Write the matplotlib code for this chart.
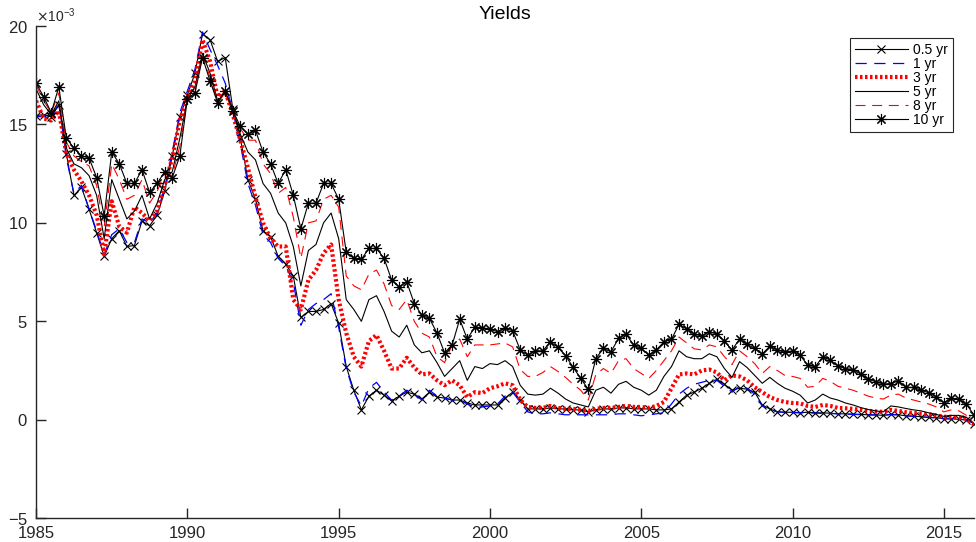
import numpy as np
import matplotlib
matplotlib.use("Agg")
import matplotlib.pyplot as plt

plt.rcParams["font.family"] = ["Liberation Sans", "DejaVu Sans"]
plt.rcParams["axes.unicode_minus"] = False

# quarterly observations, 1985Q1 .. 2016Q1 (values in units of 1e-3)
start_year = 1985
n_obs = 125

y05 = [15.45, 15.5, 15.4, 16.0, 13.5, 11.4, 11.8, 10.7, 9.5, 8.3, 9.2, 9.6,
       8.8, 8.85, 10.1, 9.85, 10.4, 11.6, 13.4, 15.4, 16.5, 17.6, 19.6, 19.3,
       18.2, 18.4, 15.8, 14.3, 12.2, 11.2, 9.6, 9.3, 8.3, 7.9, 7.3, 5.2,
       5.5, 5.5, 5.6, 5.9, 4.9, 2.7, 1.5, 0.5, 1.2, 1.5, 1.25, 0.95,
       1.2, 1.4, 1.3, 1.05, 1.4, 1.15, 1.1, 1.0, 1.0, 0.85, 0.75, 0.75,
       0.75, 0.75, 1.1, 1.4, 1.0, 0.55, 0.55, 0.55, 0.6, 0.55, 0.55, 0.5,
       0.5, 0.4, 0.5, 0.55, 0.55, 0.6, 0.6, 0.55, 0.55, 0.55, 0.5, 0.5,
       0.55, 0.9, 1.25, 1.4, 1.6, 1.85, 2.05, 1.8, 1.5, 1.6, 1.55, 1.4,
       0.75, 0.55, 0.4, 0.38, 0.38, 0.36, 0.38, 0.35, 0.35, 0.33, 0.3, 0.3,
       0.28, 0.27, 0.25, 0.25, 0.22, 0.28, 0.25, 0.2, 0.18, 0.15, 0.12, 0.1,
       0.05, 0.05, 0.02, 0.0, -0.2]

y1 = [15.4, 15.4, 15.3, 16.1, 13.3, 11.5, 11.9, 10.7, 9.6, 8.4, 9.4, 9.7,
      9.0, 9.0, 10.2, 10.0, 10.5, 11.8, 13.6, 15.6, 16.7, 17.8, 19.7, 18.8,
      18.0, 17.1, 15.7, 14.0, 12.0, 10.9, 9.4, 9.0, 8.2, 7.8, 7.0, 4.8,
      5.6, 5.9, 6.1, 6.4, 4.7, 2.6, 1.4, 0.7, 1.6, 1.9, 1.4, 1.0,
      1.2, 1.5, 1.3, 1.0, 1.5, 1.2, 1.1, 1.0, 1.0, 0.8, 0.65, 0.65,
      0.7, 0.8, 1.2, 1.4, 0.9, 0.4, 0.3, 0.3, 0.35, 0.3, 0.25, 0.25,
      0.25, 0.25, 0.25, 0.25, 0.25, 0.3, 0.3, 0.25, 0.2, 0.25, 0.3, 0.35,
      0.8, 1.3, 1.6, 1.8, 1.9, 2.0, 2.0, 1.7, 1.4, 1.7, 1.6, 1.3,
      0.7, 0.5, 0.4, 0.38, 0.36, 0.35, 0.36, 0.33, 0.33, 0.32, 0.3, 0.28,
      0.27, 0.26, 0.24, 0.24, 0.22, 0.26, 0.24, 0.2, 0.17, 0.14, 0.12, 0.09,
      0.05, 0.04, 0.02, 0.0, -0.2]

y3 = [16.2, 15.3, 15.2, 15.7, 13.5, 12.7, 12.1, 11.4, 10.4, 8.4, 11.1, 9.8,
      9.5, 10.8, 10.5, 10.1, 10.6, 11.9, 13.3, 15.2, 16.4, 17.2, 19.3, 18.2,
      16.4, 16.7, 15.5, 14.2, 12.8, 11.3, 10.0, 9.2, 8.8, 8.8, 6.1, 5.6,
      7.1, 7.6, 8.45, 8.9, 6.1, 4.4, 3.2, 2.7, 4.0, 4.3, 3.5, 2.6,
      2.6, 3.15, 2.65, 2.3, 2.35, 2.0, 1.75, 2.0, 1.75, 1.15, 1.4, 1.35,
      1.6, 1.7, 1.85, 1.75, 1.0, 0.65, 0.6, 0.6, 0.7, 0.6, 0.55, 0.55,
      0.5, 0.45, 0.55, 0.6, 0.6, 0.65, 0.7, 0.65, 0.65, 0.6, 0.7, 0.9,
      1.6, 2.3, 2.35, 2.3, 2.5, 2.55, 2.4, 2.0, 2.25, 2.2, 2.0, 1.65,
      1.4, 1.15, 1.0, 0.9, 0.85, 0.83, 0.7, 0.65, 0.75, 0.7, 0.6, 0.58,
      0.55, 0.5, 0.45, 0.42, 0.4, 0.5, 0.45, 0.38, 0.35, 0.3, 0.28, 0.22,
      0.15, 0.15, 0.1, 0.05, -0.25]

y5 = [16.8, 16.0, 15.5, 16.2, 13.8, 13.0, 12.8, 12.4, 11.4, 9.2, 12.2, 11.2,
      10.2, 10.6, 11.4, 10.2, 11.0, 12.2, 12.6, 14.3, 16.3, 16.9, 18.6, 17.6,
      16.2, 16.6, 15.8, 14.5, 13.6, 13.2, 12.0, 11.5, 10.5, 10.0, 8.8, 6.8,
      8.6, 8.9, 10.0, 10.5, 9.2, 6.1, 5.6, 5.0, 6.1, 6.3, 5.5, 4.5,
      4.2, 4.8, 3.8, 3.4, 3.5, 2.9, 2.2, 2.6, 3.0, 2.0, 2.7, 2.6,
      2.85, 2.8, 3.0, 2.7, 1.75, 1.3, 1.25, 1.3, 1.6, 1.35, 1.05, 0.85,
      0.75, 0.65, 1.5, 1.65, 1.35, 1.8, 1.95, 1.65, 1.5, 1.25, 1.5, 2.2,
      2.7, 3.5, 3.2, 3.1, 3.1, 3.35, 3.2, 2.6, 2.15, 2.95, 2.65, 2.25,
      1.85, 2.15, 1.85, 1.6, 1.45, 1.25, 0.85, 1.0, 1.3, 1.1, 1.0, 0.85,
      0.75, 0.62, 0.52, 0.45, 0.4, 0.7, 0.65, 0.57, 0.5, 0.45, 0.35, 0.27,
      0.17, 0.22, 0.22, 0.12, -0.2]

y8 = [17.0, 16.2, 15.6, 16.6, 14.1, 13.4, 13.1, 12.9, 11.9, 9.8, 13.0, 12.2,
      11.2, 11.4, 12.2, 11.0, 11.6, 12.5, 12.4, 13.9, 16.3, 16.8, 18.5, 17.4,
      16.1, 16.6, 15.7, 14.8, 14.2, 14.2, 13.0, 12.5, 11.5, 11.8, 10.3, 8.2,
      10.0, 10.1, 11.2, 11.4, 10.8, 7.3, 6.8, 6.6, 7.4, 7.6, 6.9, 5.8,
      5.6, 6.1, 5.0, 4.4, 4.2, 3.2, 2.9, 3.8, 4.1, 3.2, 3.8, 3.8,
      3.8, 3.85, 3.9, 3.7, 2.55, 2.2, 2.2, 2.4, 2.7, 2.45, 2.15, 1.8,
      1.5, 1.0, 2.3, 2.6, 2.35, 3.0, 3.1, 2.6, 2.35, 2.1, 2.5, 3.0,
      3.5, 4.2, 3.9, 3.6, 3.55, 3.8, 3.7, 3.2, 2.8, 3.5, 3.2, 2.85,
      2.35, 2.7, 2.5, 2.25, 2.2, 2.1, 1.65, 1.7, 2.1, 1.95, 1.7, 1.6,
      1.5, 1.35, 1.2, 1.1, 1.05, 1.25, 1.3, 1.1, 1.0, 0.9, 0.8, 0.65,
      0.4, 0.5, 0.45, 0.22, -0.2]

y10 = [17.1, 16.4, 15.6, 16.9, 14.3, 13.8, 13.4, 13.3, 12.3, 10.35, 13.6, 13.0,
       12.0, 12.0, 12.7, 11.55, 12.0, 12.6, 12.3, 13.4, 16.3, 16.6, 18.4, 17.2,
       16.1, 16.7, 15.7, 14.9, 14.5, 14.7, 13.6, 13.0, 12.0, 12.7, 11.4, 9.7,
       11.0, 11.0, 12.0, 12.0, 11.2, 8.5, 8.2, 8.15, 8.7, 8.7, 8.2, 7.1,
       6.75, 7.0, 5.9, 5.3, 5.15, 4.4, 3.4, 3.8, 5.1, 4.1, 4.7, 4.67,
       4.6, 4.47, 4.64, 4.52, 3.54, 3.28, 3.5, 3.5, 3.96, 3.67, 3.25, 2.66,
       2.1, 1.54, 3.11, 3.62, 3.45, 4.13, 4.35, 3.79, 3.62, 3.28, 3.54, 3.96,
       4.08, 4.86, 4.6, 4.35, 4.25, 4.47, 4.35, 3.99, 3.54, 4.1, 3.83, 3.62,
       3.33, 3.74, 3.54, 3.42, 3.5, 3.28, 2.77, 2.69, 3.2, 3.03, 2.72, 2.6,
       2.55, 2.32, 2.06, 1.93, 1.81, 1.84, 1.98, 1.64, 1.64, 1.5, 1.37, 1.16,
       0.86, 1.08, 1.03, 0.79, 0.23]

dates = start_year + np.arange(n_obs) / 4.0
scale = 1e-3

fig = plt.figure(figsize=(9.76, 5.42), dpi=100)
ax = fig.add_axes([0.037, 0.044, 0.961, 0.908])

ax.plot(dates, np.array(y05) * scale, color="k", lw=0.8, marker="x",
        ms=6, mew=0.8, label="0.5 yr")
ax.plot(dates, np.array(y1) * scale, color="b", lw=0.9, ls=(0, (9, 6)),
        label="1 yr")
ax.plot(dates, np.array(y3) * scale, color="r", lw=3, ls=(0, (0.6, 0.6)),
        label="3 yr")
ax.plot(dates, np.array(y5) * scale, color="k", lw=0.8, label="5 yr")
ax.plot(dates, np.array(y8) * scale, color="r", lw=0.8, ls=(0, (9, 6)),
        label="8 yr")
ax.plot(dates, np.array(y10) * scale, color="k", lw=0.8, marker=(8, 2, 0),
        ms=8, mew=0.8, label="10 yr")

ax.set_xlim(1985, 2016)
ax.set_ylim(-5e-3, 20e-3)
ax.set_xticks(np.arange(1985, 2016, 5))
ax.set_yticks(np.arange(-5e-3, 20.1e-3, 5e-3))
ax.ticklabel_format(axis="y", style="sci", scilimits=(-3, -3), useMathText=True)
ax.yaxis.get_offset_text().set_fontsize(10)
ax.yaxis.get_offset_text().set_color("#262626")

for side in ["top", "right"]:
    ax.spines[side].set_visible(False)
for side in ["left", "bottom"]:
    ax.spines[side].set_color("#262626")
    ax.spines[side].set_linewidth(1.0)
ax.tick_params(direction="in", length=7, width=1, colors="#262626",
               labelsize=12, labelcolor="#262626")
ax.tick_params(axis="x", pad=6)
ax.tick_params(axis="y", pad=6)

ax.set_title("Yields", fontsize=14, pad=5)

leg = ax.legend(loc="upper right", bbox_to_anchor=(0.985, 0.99), fontsize=10,
                handlelength=3.8, labelspacing=0.0, borderpad=0.35,
                handletextpad=0.4, fancybox=False, framealpha=1)
leg.get_frame().set_edgecolor("#262626")
leg.get_frame().set_linewidth(0.8)

fig.savefig("out.png", dpi=100)
plt.close(fig)
